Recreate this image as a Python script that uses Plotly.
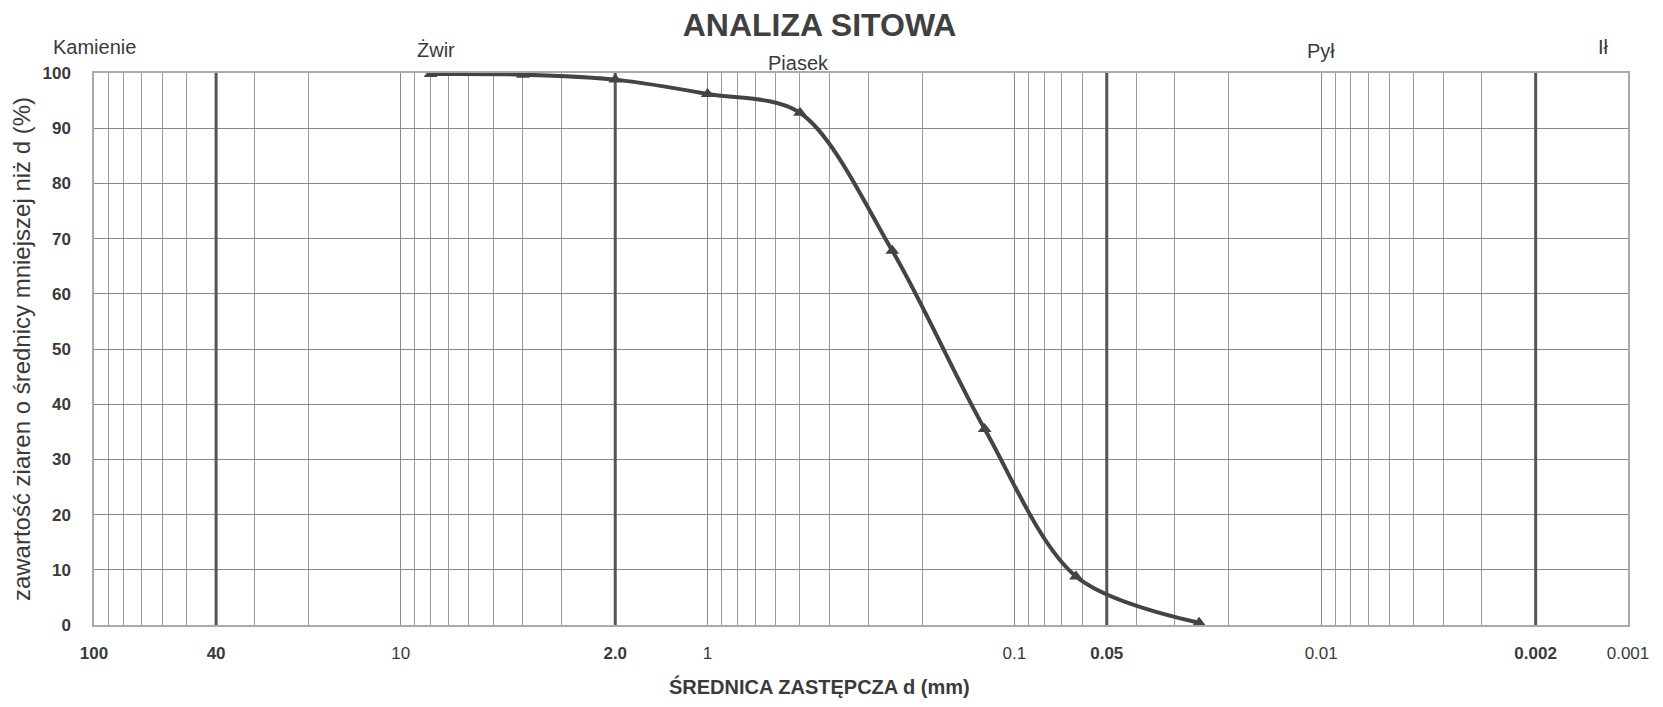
import math
import plotly.graph_objects as go

# ---- data ----
diameter_mm = [8.0, 4.0, 2.0, 1.0, 0.5, 0.25, 0.125, 0.063, 0.025]
passing_pct = [99.8, 99.7, 98.8, 96.2, 92.8, 67.8, 35.5, 8.8, 0.4]

x_tick_vals = [100, 40, 10, 2.0, 1, 0.1, 0.05, 0.01, 0.002, 0.001]
x_tick_text = ["<b>100</b>", "<b>40</b>", "10", "<b>2.0</b>", "1", "0.1",
               "<b>0.05</b>", "0.01", "<b>0.002</b>", "0.001"]
y_tick_vals = [0, 10, 20, 30, 40, 50, 60, 70, 80, 90, 100]
y_tick_text = ["<b>%d</b>" % v for v in y_tick_vals]

class_bounds = [40, 2.0, 0.05, 0.002]
class_names = ["Kamienie", "Żwir", "Piasek", "Pył", "Ił"]
class_label_x = [100, 7.66, 0.505, 0.0100, 0.0012]
class_label_y = [1.047, 1.042, 1.018, 1.040, 1.047]

minor_vals = [m * 10 ** e for e in range(-3, 2) for m in range(1, 10)] + [100]

fig = go.Figure()

# class boundary lines (thick)
for b in class_bounds:
    fig.add_trace(go.Scatter(x=[b, b], y=[0, 100], mode="lines",
                             line=dict(color="#555555", width=3),
                             hoverinfo="skip", showlegend=False))

fig.add_trace(go.Scatter(
    x=diameter_mm, y=passing_pct, mode="lines+markers",
    line=dict(color="#444444", width=4, shape="spline", smoothing=0.9),
    marker=dict(symbol="triangle-up", size=12, color="#444444"),
    showlegend=False))

for name, lx, ly in zip(class_names, class_label_x, class_label_y):
    fig.add_annotation(x=math.log10(lx), y=ly, xref="x", yref="paper", text=name,
                       showarrow=False, xanchor="center", yanchor="middle",
                       font=dict(family="Liberation Sans, Arial", size=20, color="#3a3a3a"))

# x-axis title (placed left of centre as in the original)
fig.add_annotation(x=0.473, y=-0.112, xref="paper", yref="paper",
                   text="<b>ŚREDNICA ZASTĘPCZA d (mm)</b>", showarrow=False,
                   xanchor="center", yanchor="middle",
                   font=dict(family="Liberation Sans, Arial", size=20, color="#3a3a3a"))

fig.update_layout(
    width=1663, height=707,
    paper_bgcolor="white", plot_bgcolor="white",
    margin=dict(l=80, r=43, t=65, b=90),
    title=dict(text="<b>ANALIZA SITOWA</b>", x=0.488, xanchor="center",
               y=0.976, yanchor="middle",
               font=dict(family="Liberation Sans, Arial", size=32, color="#404040")),
    font=dict(family="Liberation Sans, Arial", color="#3a3a3a"),
)

fig.update_xaxes(
    type="log", range=[2, -3], autorange=False,
    tickmode="array", tickvals=x_tick_vals, ticktext=x_tick_text,
    tickfont=dict(size=17, color="#3a3a3a"),
    showgrid=True, gridcolor="#8a8a8a", gridwidth=1,
    minor=dict(tickmode="array", tickvals=minor_vals, showgrid=True,
               gridcolor="#9a9a9a", gridwidth=1, ticks=""),
    showline=True, linecolor="#aaaaaa", linewidth=1.5, mirror=True,
    zeroline=False, ticks="", ticklabelstandoff=12,
)
fig.update_yaxes(
    range=[0, 100], autorange=False,
    tickmode="array", tickvals=y_tick_vals, ticktext=y_tick_text,
    tickfont=dict(size=17, color="#3a3a3a"),
    showgrid=True, gridcolor="#8a8a8a", gridwidth=1.2,
    showline=True, linecolor="#aaaaaa", linewidth=1.5, mirror=True,
    zeroline=False, ticks="", ticklabelstandoff=18,
    title=dict(text="zawartość ziaren o średnicy mniejszej niż d (%)", standoff=6,
               font=dict(size=24, color="#3a3a3a")),
)

fig.write_html("out.html")
